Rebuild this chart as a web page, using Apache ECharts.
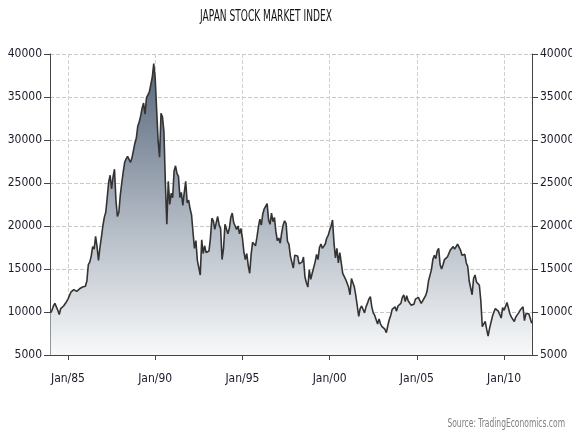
<!DOCTYPE html>
<html>
<head>
<meta charset="utf-8">
<script src="https://cdn.jsdelivr.net/npm/echarts@6/dist/echarts.min.js"></script>
<style>
  html, body { margin: 0; padding: 0; background: #fff; }
  #chart { width: 572px; height: 433px; }
</style>
</head>
<body>
<div id="chart"></div>
<script>
// monthly index level, starting Jan 1984
var startYear = 1984;
var values1980s = [
  9900, 10200, 10700, 11000, 10600, 10200, 9700, 10400, 10500, 10700, 10900, 11200,
  11500, 11900, 12300, 12200, 12600, 12800, 12400, 12600, 12700, 12700, 12900, 13100,
  13000, 13600, 15500, 15800, 16500, 17600, 17300, 18800, 17600, 16000, 17500, 18700,
  20000, 21000, 21600, 23300, 25100, 25900, 24300, 25700, 26600, 23000, 21100, 21600,
  23600, 25000, 26300, 27400, 27800, 28100, 27900, 27400, 27900, 28000, 29600, 30200,
  31600, 32100, 32800, 33700, 34300, 33000, 34900, 35000, 35600, 35500, 37300, 38900
];
var values1990s = [
  37200, 33500, 29900, 28000, 33100, 32700, 31000, 25000, 20200, 25200, 22500, 23800,
  23300, 26400, 27000, 26100, 25800, 23300, 23900, 22400, 23900, 25200, 22700, 23000,
  22000, 21300, 19300, 17400, 18300, 16000, 15900, 14300, 18400, 16800, 17700, 16900,
  17000, 17100, 18600, 20900, 20600, 19600, 20400, 21100, 20100, 19700, 16100, 17400,
  20200, 20000, 19100, 19700, 21000, 21500, 20400, 20600, 19600, 20000, 19100, 19700,
  18600, 17000, 16100, 16800, 15400, 14500, 16700, 18100, 17900, 17700, 18700, 19900,
  20800, 20100, 21400, 22000, 22000, 22600, 20700, 20200, 21500, 20500, 21000, 19400,
  18300, 18600, 18000, 19200, 20100, 20600, 20300, 18200, 17900, 16500, 16600, 15100,
  16600, 16800, 16500, 15600, 15700, 15800, 16400, 14100, 13400, 12900, 14900, 13800,
  14500, 14400, 15800, 16700, 16100, 17500, 17900, 17400, 17600, 17900, 18600, 18900
];
var values2000s = [
  19500, 20000, 20700, 18000, 16300, 17400, 15700, 16900, 15700, 14500, 14600, 13800,
  13800, 12900, 12000, 13900, 14000, 12900, 11900, 10700, 9500, 10400, 10700, 10500,
  9900, 10600, 11000, 11500, 11800, 10600, 9900, 9600, 9400, 8600, 9200, 8600,
  8300, 8400, 8000, 7600, 8400, 9100, 9600, 10300, 10200, 10600, 10100, 10700,
  10800, 11000, 11700, 12000, 11200, 11900, 11300, 11100, 10800, 10800, 10900, 11500,
  11400, 11700, 11700, 11000, 11300, 11600, 11900, 12400, 13600, 13600, 14900, 16100,
  16600, 16200, 17100, 17400, 15500, 15000, 15500, 16100, 16100, 16400, 16300, 17200,
  17400, 17600, 17300, 17400, 17900, 18100, 17200, 16600, 16800, 16700, 15700, 15300,
  13600, 13600, 12000, 13900, 14300, 13500, 13400, 13100, 11300, 8300, 8500, 8900,
  8000, 7200, 8100, 8800, 9500, 10000, 10400, 10500, 10100, 10000, 9300, 10500
];
var values2010s = [
  10200, 10100, 11100, 11100, 9800, 9400, 9500, 8900, 9400, 9200, 9900, 10200,
  10200, 10600, 9000, 9800, 9700, 9800, 9800, 8700
];
var xTicks = [1985, 1990, 1995, 2000, 2005, 2010];
var yTicks = [5000, 40000, 5000]; // min, max, step

var values = values1980s.concat(values1990s, values2000s, values2010s);
var seriesData = values.map(function (v, i) {
  return [startYear + i / 12, v];
});

var font = "'DejaVu Sans Condensed', 'DejaVu Sans', sans-serif";
var chart = echarts.init(document.getElementById('chart'));

var yAxisBase = {
  type: 'value',
  min: yTicks[0],
  max: yTicks[1],
  interval: yTicks[2],
  axisLine: { show: true, lineStyle: { color: '#444', width: 1 } },
  axisTick: { show: true, length: 6, lineStyle: { color: '#444' } },
  axisLabel: {
    color: '#1a1a2a', fontSize: 12, fontFamily: font, margin: 8,
    formatter: function (v) { return String(v); }
  }
};

chart.setOption({
  animation: false,
  backgroundColor: '#fff',
  graphic: [{
    type: 'text',
    x: 266,
    y: 17,
    scaleX: 0.63,
    style: {
      text: 'JAPAN STOCK MARKET INDEX',
      fill: '#111',
      font: '16px ' + font,
      align: 'center',
      verticalAlign: 'middle'
    }
  }, {
    type: 'text',
    x: 565,
    y: 424,
    scaleX: 0.7,
    style: {
      text: 'Source: TradingEconomics.com',
      fill: '#808080',
      font: '12px ' + font,
      align: 'right',
      verticalAlign: 'middle'
    }
  }],
  grid: { left: 50, right: 40, top: 54, bottom: 78, outerBoundsMode: 'none' },
  xAxis: {
    type: 'value',
    min: 1983.97,
    max: 2011.6,
    axisLine: { lineStyle: { color: '#444', width: 1 } },
    axisTick: { show: true, length: 5, customValues: xTicks, lineStyle: { color: '#444' } },
    axisLabel: {
      customValues: xTicks,
      color: '#1a1a2a',
      fontSize: 12,
      fontFamily: font,
      margin: 18,
      formatter: function (v) { return 'Jan/' + String(v).slice(2); }
    },
    splitLine: { show: true, lineStyle: { color: '#d0d0d0', type: 'dashed' } }
  },
  yAxis: [
    Object.assign({}, yAxisBase, {
      position: 'left',
      splitLine: { show: true, lineStyle: { color: '#c8c8c8', type: 'dashed' } }
    }),
    Object.assign({}, yAxisBase, {
      position: 'right',
      splitLine: { show: false }
    })
  ],
  series: [{
    type: 'line',
    data: seriesData,
    showSymbol: false,
    lineStyle: { color: '#333', width: 1.6 },
    areaStyle: {
      origin: 'start',
      opacity: 1,
      color: new echarts.graphic.LinearGradient(0, 0, 0, 1, [
        { offset: 0, color: '#56667a' },
        { offset: 0.5, color: '#a9b2bd' },
        { offset: 1, color: '#f8f9fa' }
      ])
    }
  }]
});
</script>
</body>
</html>
